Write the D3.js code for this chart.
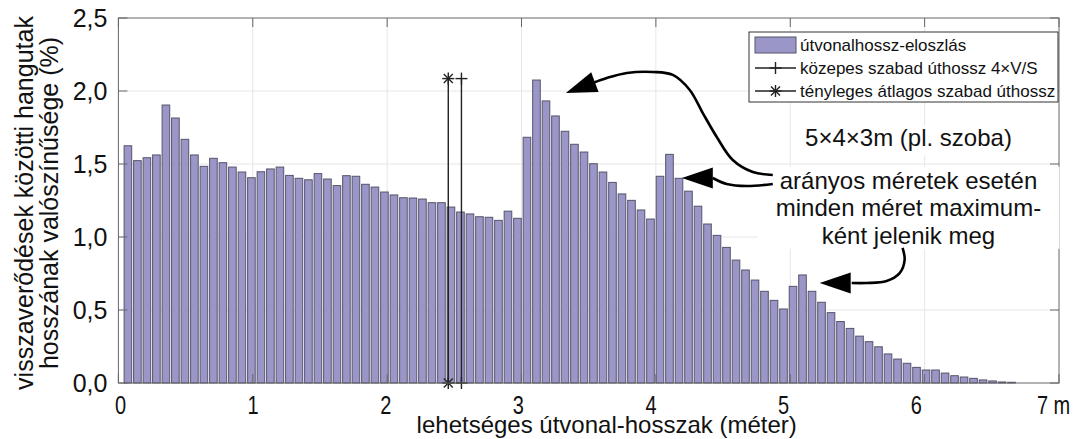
<!DOCTYPE html>
<html>
<head>
<meta charset="utf-8">
<script src="https://cdn.jsdelivr.net/npm/d3@7"></script>
<style>
  body { margin: 0; background: #fff; }
  text { font-family: "Liberation Sans", Arial, sans-serif; fill: #111; }
</style>
</head>
<body>
<div id="chart"></div>
<script>
// histogram of path lengths between reflections, 5x4x3 m room
// bins are 1/100 of the room diagonal, sqrt(50) m
const binStep = Math.sqrt(50) / 100;

const probabilities = [
  1.625, 1.523, 1.543, 1.562, 1.904, 1.815, 1.669, 1.562, 1.484, 1.539,
  1.509, 1.479, 1.445, 1.406, 1.447, 1.466, 1.479, 1.422, 1.402, 1.392,
  1.434, 1.397, 1.352, 1.420, 1.416, 1.361, 1.342, 1.308, 1.288, 1.269,
  1.267, 1.260, 1.235, 1.235, 1.205, 1.171, 1.158, 1.139, 1.135, 1.114,
  1.177, 1.128, 1.683, 2.075, 1.932, 1.829, 1.724, 1.635, 1.582, 1.502,
  1.445, 1.374, 1.295, 1.251, 1.185, 1.123, 1.416, 1.566, 1.402, 1.314,
  1.211, 1.089, 1.011, 0.929, 0.842, 0.774, 0.705, 0.628, 0.566, 0.507,
  0.662, 0.740, 0.628, 0.553, 0.482, 0.421, 0.374, 0.321, 0.283, 0.248,
  0.199, 0.164, 0.135, 0.107, 0.089, 0.089, 0.068, 0.050, 0.041, 0.032,
  0.021, 0.014, 0.007, 0.005
];

const xTicks = [0, 1, 2, 3, 4, 5, 6, 7];
const yTicks = [0, 0.5, 1, 1.5, 2, 2.5];

const meanFreePath = 2.553;   // 4V/S
const actualMeanPath = 2.455;
const pathLineTop = 2.085;

const legendLabels = ["útvonalhossz-eloszlás", "közepes szabad úthossz 4×V/S", "tényleges átlagos szabad úthossz"];
const yTitle = ["visszaverődések közötti hangutak", "hosszának valószínűsége (%)"];
const xTitle = "lehetséges útvonal-hosszak (méter)";
const roomLabel = "5×4×3m (pl. szoba)";
const noteLines = ["arányos méretek esetén", "minden méret maximum-", "ként jelenik meg"];
const noteX = 5.88;
const noteBaselines = [1.33, 1.141, 0.952];
const roomBaseline = 1.62;

// arrow curves in data units [m, %], last point is the tip
const arrows = [
  [[4.87, 1.425], [4.721, 1.445], [4.572, 1.527], [4.453, 1.685], [4.349, 1.849], [4.252, 2.007],
   [4.126, 2.11], [3.977, 2.13], [3.784, 2.123], [3.635, 2.089], [3.53, 2.055], [3.33, 1.986]],
  [[4.87, 1.363], [4.676, 1.349], [4.527, 1.363], [4.423, 1.404], [4.193, 1.404]],
  [[5.836, 0.925], [5.851, 0.842], [5.814, 0.753], [5.717, 0.699], [5.568, 0.685], [5.457, 0.685], [5.219, 0.685]]
];

const outerWidth = 1081, outerHeight = 439;
const margin = { left: 118.4, top: 18, right: 22, bottom: 56 };
const innerWidth = outerWidth - margin.left - margin.right;
const innerHeight = outerHeight - margin.top - margin.bottom;

const svg = d3.select("#chart").append("svg")
  .attr("width", outerWidth)
  .attr("height", outerHeight);

const g = svg.append("g")
  .attr("transform", "translate(" + margin.left + "," + margin.top + ")");

const x = d3.scaleLinear().domain([0, 7]).range([0, innerWidth]);
const y = d3.scaleLinear().domain([0, 2.5]).range([innerHeight, 0]);
// tick labels in the original drift slightly left of the grid
const xLabelPos = x.copy().range([1.6, 930]);

// grid
g.append("g").selectAll("line").data(yTicks.slice(1, -1)).enter().append("line")
  .attr("x1", 0).attr("x2", innerWidth)
  .attr("y1", d => y(d)).attr("y2", d => y(d))
  .attr("stroke", "#e6e6e6").attr("stroke-width", 1);
g.append("g").selectAll("line").data(xTicks.slice(1, -1)).enter().append("line")
  .attr("y1", 0).attr("y2", innerHeight)
  .attr("x1", d => x(d)).attr("x2", d => x(d))
  .attr("stroke", "#e6e6e6").attr("stroke-width", 1);

// bars
const bins = probabilities.map((p, i) => ({ len: (i + 1) * binStep, p: p }));
const bw = x(binStep * 0.8) - x(0);
g.append("g").selectAll("rect").data(bins).enter().append("rect")
  .attr("x", d => x(d.len) - bw / 2)
  .attr("y", d => y(d.p))
  .attr("width", bw)
  .attr("height", d => y(0) - y(d.p))
  .attr("fill", "#9b96c8")
  .attr("stroke", "#55546a")
  .attr("stroke-width", 1);

// mean free path lines
function plusMarker(sel, cx, cy) {
  sel.append("line").attr("x1", cx - 6).attr("x2", cx + 6).attr("y1", cy).attr("y2", cy);
  sel.append("line").attr("x1", cx).attr("x2", cx).attr("y1", cy - 6).attr("y2", cy + 6);
}
function starMarker(sel, cx, cy) {
  plusMarker(sel, cx, cy);
  sel.append("line").attr("x1", cx - 4.5).attr("x2", cx + 4.5).attr("y1", cy - 4.5).attr("y2", cy + 4.5);
  sel.append("line").attr("x1", cx - 4.5).attr("x2", cx + 4.5).attr("y1", cy + 4.5).attr("y2", cy - 4.5);
}
const pathLines = g.append("g").attr("stroke", "#222").attr("stroke-width", 1.4);
pathLines.append("line")
  .attr("x1", x(meanFreePath)).attr("x2", x(meanFreePath))
  .attr("y1", y(0)).attr("y2", y(pathLineTop));
plusMarker(pathLines, x(meanFreePath), y(0));
plusMarker(pathLines, x(meanFreePath), y(pathLineTop));
pathLines.append("line")
  .attr("x1", x(actualMeanPath)).attr("x2", x(actualMeanPath))
  .attr("y1", y(0)).attr("y2", y(pathLineTop));
starMarker(pathLines, x(actualMeanPath), y(0));
starMarker(pathLines, x(actualMeanPath), y(pathLineTop));

// box and inward ticks
g.append("rect")
  .attr("width", innerWidth).attr("height", innerHeight)
  .attr("fill", "none").attr("stroke", "#666").attr("stroke-width", 1);
const tickG = g.append("g").attr("stroke", "#666").attr("stroke-width", 1);
yTicks.forEach(t => {
  tickG.append("line").attr("x1", 0).attr("x2", 9).attr("y1", y(t)).attr("y2", y(t));
  tickG.append("line").attr("x1", innerWidth - 9).attr("x2", innerWidth).attr("y1", y(t)).attr("y2", y(t));
});
xTicks.forEach(t => {
  tickG.append("line").attr("x1", x(t)).attr("x2", x(t)).attr("y1", innerHeight - 9).attr("y2", innerHeight);
  tickG.append("line").attr("x1", x(t)).attr("x2", x(t)).attr("y1", 0).attr("y2", 9);
});

// axes
const yAxis = d3.axisLeft(y).tickValues(yTicks).tickSize(0).tickPadding(11)
  .tickFormat(d => d3.format(".1f")(d).replace(".", ","));
const yAxisG = g.append("g").call(yAxis);
yAxisG.select(".domain").remove();
yAxisG.selectAll("text").attr("font-size", 25).style("font-family", '"Liberation Sans", Arial, sans-serif');

const xAxis = d3.axisBottom(xLabelPos).tickValues(xTicks).tickSize(0).tickPadding(13)
  .tickFormat(d => d === 7 ? "7 m" : d);
const xAxisG = g.append("g").attr("transform", "translate(0," + innerHeight + ")").call(xAxis);
xAxisG.select(".domain").remove();
xAxisG.selectAll("text")
  .attr("font-size", 25)
  .style("font-family", '"Liberation Sans", Arial, sans-serif')
  .attr("transform", "scale(0.8,1)");
xAxisG.selectAll(".tick").filter(d => d === 7).select("text")
  .attr("text-anchor", "start").attr("x", -15);

g.append("text")
  .attr("x", innerWidth / 2 + 18)
  .attr("y", innerHeight + 50)
  .attr("text-anchor", "middle")
  .attr("font-size", 24)
  .text(xTitle);

yTitle.forEach((t, i) => {
  svg.append("text")
    .attr("transform", "translate(" + (33 + i * 25) + "," + 203 + ") rotate(-90)")
    .attr("text-anchor", "middle")
    .attr("font-size", 25)
    .text(t);
});

// annotations
const note = g.append("g");
note.append("rect")
  .attr("x", x(noteX) - 108).attr("y", y(roomBaseline) - 21)
  .attr("width", 216).attr("height", 30).attr("fill", "#fff");
note.append("rect")
  .attr("x", x(noteX) - 151).attr("y", y(noteBaselines[0]) - 22)
  .attr("width", 302).attr("height", 82).attr("fill", "#fff");
note.append("text")
  .attr("x", x(noteX)).attr("y", y(roomBaseline))
  .attr("text-anchor", "middle").attr("font-size", 24)
  .text(roomLabel);
noteLines.forEach((t, i) => {
  note.append("text")
    .attr("x", x(noteX)).attr("y", y(noteBaselines[i]))
    .attr("text-anchor", "middle").attr("font-size", 24)
    .text(t);
});

const curve = d3.line().x(d => x(d[0])).y(d => y(d[1])).curve(d3.curveCatmullRom);
arrows.forEach(pts => {
  const tip = pts[pts.length - 1];
  const base = pts[pts.length - 2];
  const tx = x(tip[0]), ty = y(tip[1]);
  const bx = x(base[0]), by = y(base[1]);
  const len = Math.hypot(bx - tx, by - ty);
  const ux = (bx - tx) / len, uy = (by - ty) / len;
  const hl = 31, hw = 10.5;
  const cx = tx + ux * hl, cy = ty + uy * hl;
  note.append("path")
    .attr("d", curve(pts.slice(0, -1)))
    .attr("fill", "none").attr("stroke", "#000").attr("stroke-width", 2.6);
  note.append("path")
    .attr("d", "M" + tx + "," + ty + "L" + (cx - uy * hw) + "," + (cy + ux * hw) +
      "L" + (cx + uy * hw) + "," + (cy - ux * hw) + "Z")
    .attr("fill", "#000");
});

// legend
const legend = g.append("g").attr("transform", "translate(" + (innerWidth - 310) + ",14)");
legend.append("rect")
  .attr("width", 309).attr("height", 70)
  .attr("fill", "#fff").attr("stroke", "#333").attr("stroke-width", 1);
legend.append("rect")
  .attr("x", 6).attr("y", 5).attr("width", 41).attr("height", 16)
  .attr("fill", "#9b96c8").attr("stroke", "#55546a");
const legendLines = legend.append("g").attr("stroke", "#222").attr("stroke-width", 1.4);
[36, 59].forEach((ly, i) => {
  legendLines.append("line").attr("x1", 6).attr("x2", 47).attr("y1", ly).attr("y2", ly);
  if (i === 0) plusMarker(legendLines, 26.5, ly);
  else starMarker(legendLines, 26.5, ly);
});
legendLabels.forEach((t, i) => {
  legend.append("text")
    .attr("x", 51).attr("y", 19 + i * 23)
    .attr("font-size", 17)
    .text(t);
});
</script>
</body>
</html>
